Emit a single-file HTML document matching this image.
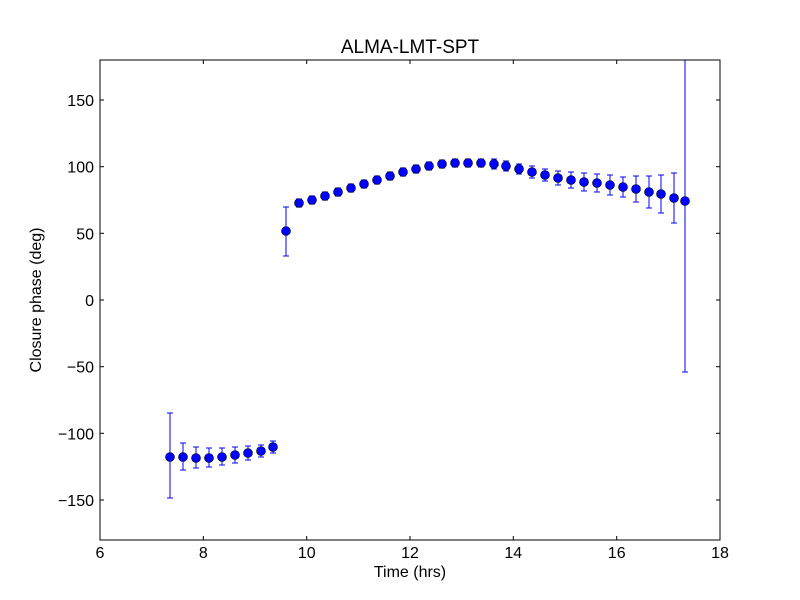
<!DOCTYPE html>
<html><head><style>body{margin:0;background:#fff}svg{display:block}</style></head><body>
<svg width="800" height="600" xmlns="http://www.w3.org/2000/svg" font-family="Liberation Sans, DejaVu Sans, sans-serif">
<rect width="800" height="600" fill="#fff"/>
<g stroke="#0000ff" stroke-width="1" fill="none">
<path d="M167 413H173M170 413V498M167 498H173"/>
<path d="M180 443H186M183 443V470M180 470H186"/>
<path d="M193 447H199M196 447V468M193 468H199"/>
<path d="M206 448H212M209 448V467M206 467H212"/>
<path d="M219 448H225M222 448V465M219 465H225"/>
<path d="M232 447H238M235 447V463M232 463H238"/>
<path d="M245 446H251M248 446V460M245 460H251"/>
<path d="M258 445H264M261 445V457M258 457H264"/>
<path d="M270 441H276M273 441V453M270 453H276"/>
<path d="M283 207H289M286 207V256M283 256H289"/>
<path d="M296 199H302M299 199V207M296 207H302"/>
<path d="M309 196H315M312 196V204M309 204H315"/>
<path d="M322 192H328M325 192V200M322 200H328"/>
<path d="M335 188H341M338 188V196M335 196H341"/>
<path d="M348 184H354M351 184V192M348 192H354"/>
<path d="M361 180H367M364 180V188M361 188H367"/>
<path d="M374 176H380M377 176V184M374 184H380"/>
<path d="M387 172H393M390 172V180M387 180H393"/>
<path d="M400 168H406M403 168V176M400 176H406"/>
<path d="M413 165H419M416 165V173M413 173H419"/>
<path d="M426 162H432M429 162V170M426 170H432"/>
<path d="M439 160H445M442 160V168M439 168H445"/>
<path d="M452 159H458M455 159V167M452 167H458"/>
<path d="M465 159H471M468 159V167M465 167H471"/>
<path d="M478 159H484M481 159V167M478 167H484"/>
<path d="M491 159H497M494 159V169M491 169H497"/>
<path d="M503 161H509M506 161V171M503 171H509"/>
<path d="M516 164H522M519 164V174M516 174H522"/>
<path d="M529 166H535M532 166V178M529 178H535"/>
<path d="M542 169H548M545 169V181M542 181H548"/>
<path d="M555 171H561M558 171V185M555 185H561"/>
<path d="M568 172H574M571 172V188M568 188H574"/>
<path d="M581 173H587M584 173V191M581 191H587"/>
<path d="M594 174H600M597 174V192M594 192H600"/>
<path d="M607 175H613M610 175V195M607 195H613"/>
<path d="M620 177H626M623 177V197M620 197H626"/>
<path d="M633 176H639M636 176V202M633 202H639"/>
<path d="M646 176H652M649 176V208M646 208H652"/>
<path d="M658 175H664M661 175V213M658 213H664"/>
<path d="M671 173H677M674 173V223M671 223H677"/>
<path d="M682 60H688M685 60V372M682 372H688"/>
</g>
<g fill="#0000ff" stroke="#000" stroke-width="0.6">
<circle cx="170" cy="457" r="4.5"/><circle cx="183" cy="457" r="4.5"/><circle cx="196" cy="458" r="4.5"/><circle cx="209" cy="458" r="4.5"/><circle cx="222" cy="457" r="4.5"/><circle cx="235" cy="455" r="4.5"/><circle cx="248" cy="453" r="4.5"/><circle cx="261" cy="451" r="4.5"/><circle cx="273" cy="447" r="4.5"/>
<circle cx="286" cy="231" r="4.5"/><circle cx="299" cy="203" r="4.5"/><circle cx="312" cy="200" r="4.5"/><circle cx="325" cy="196" r="4.5"/><circle cx="338" cy="192" r="4.5"/><circle cx="351" cy="188" r="4.5"/><circle cx="364" cy="184" r="4.5"/><circle cx="377" cy="180" r="4.5"/><circle cx="390" cy="176" r="4.5"/><circle cx="403" cy="172" r="4.5"/><circle cx="416" cy="169" r="4.5"/><circle cx="429" cy="166" r="4.5"/><circle cx="442" cy="164" r="4.5"/><circle cx="455" cy="163" r="4.5"/><circle cx="468" cy="163" r="4.5"/><circle cx="481" cy="163" r="4.5"/><circle cx="494" cy="164" r="4.5"/><circle cx="506" cy="166" r="4.5"/><circle cx="519" cy="169" r="4.5"/><circle cx="532" cy="172" r="4.5"/><circle cx="545" cy="175" r="4.5"/><circle cx="558" cy="178" r="4.5"/><circle cx="571" cy="180" r="4.5"/><circle cx="584" cy="182" r="4.5"/><circle cx="597" cy="183" r="4.5"/><circle cx="610" cy="185" r="4.5"/><circle cx="623" cy="187" r="4.5"/><circle cx="636" cy="189" r="4.5"/><circle cx="649" cy="192" r="4.5"/><circle cx="661" cy="194" r="4.5"/><circle cx="674" cy="198" r="4.5"/><circle cx="685" cy="201" r="4.5"/>
</g>
<rect x="100" y="60" width="620" height="480" fill="none" stroke="#000" stroke-width="1"/>
<g stroke="#000" stroke-width="1">
<line x1="203.3" y1="540" x2="203.3" y2="536"/><line x1="203.3" y1="60" x2="203.3" y2="64"/>
<line x1="306.7" y1="540" x2="306.7" y2="536"/><line x1="306.7" y1="60" x2="306.7" y2="64"/>
<line x1="410" y1="540" x2="410" y2="536"/><line x1="410" y1="60" x2="410" y2="64"/>
<line x1="513.3" y1="540" x2="513.3" y2="536"/><line x1="513.3" y1="60" x2="513.3" y2="64"/>
<line x1="616.7" y1="540" x2="616.7" y2="536"/><line x1="616.7" y1="60" x2="616.7" y2="64"/>
<line x1="100" y1="100" x2="104" y2="100"/><line x1="720" y1="100" x2="716" y2="100"/>
<line x1="100" y1="166.7" x2="104" y2="166.7"/><line x1="720" y1="166.7" x2="716" y2="166.7"/>
<line x1="100" y1="233.3" x2="104" y2="233.3"/><line x1="720" y1="233.3" x2="716" y2="233.3"/>
<line x1="100" y1="300" x2="104" y2="300"/><line x1="720" y1="300" x2="716" y2="300"/>
<line x1="100" y1="366.7" x2="104" y2="366.7"/><line x1="720" y1="366.7" x2="716" y2="366.7"/>
<line x1="100" y1="433.3" x2="104" y2="433.3"/><line x1="720" y1="433.3" x2="716" y2="433.3"/>
<line x1="100" y1="500" x2="104" y2="500"/><line x1="720" y1="500" x2="716" y2="500"/>
</g>
<g font-size="16" text-anchor="middle" fill="#000">
<text x="100" y="558">6</text><text x="203.3" y="558">8</text><text x="306.7" y="558">10</text>
<text x="410" y="558">12</text><text x="513.3" y="558">14</text><text x="616.7" y="558">16</text><text x="720" y="558">18</text>
<text x="410" y="577">Time (hrs)</text>
<text x="410" y="53" font-size="19">ALMA-LMT-SPT</text>
<text transform="translate(41,300) rotate(-90)">Closure phase (deg)</text>
</g>
<g font-size="16" text-anchor="end" fill="#000">
<text x="94" y="106">150</text><text x="94" y="172.7">100</text><text x="94" y="239.3">50</text>
<text x="94" y="306">0</text><text x="94" y="372.7">−50</text><text x="94" y="439.3">−100</text><text x="94" y="506">−150</text>
</g>
</svg>
</body></html>
